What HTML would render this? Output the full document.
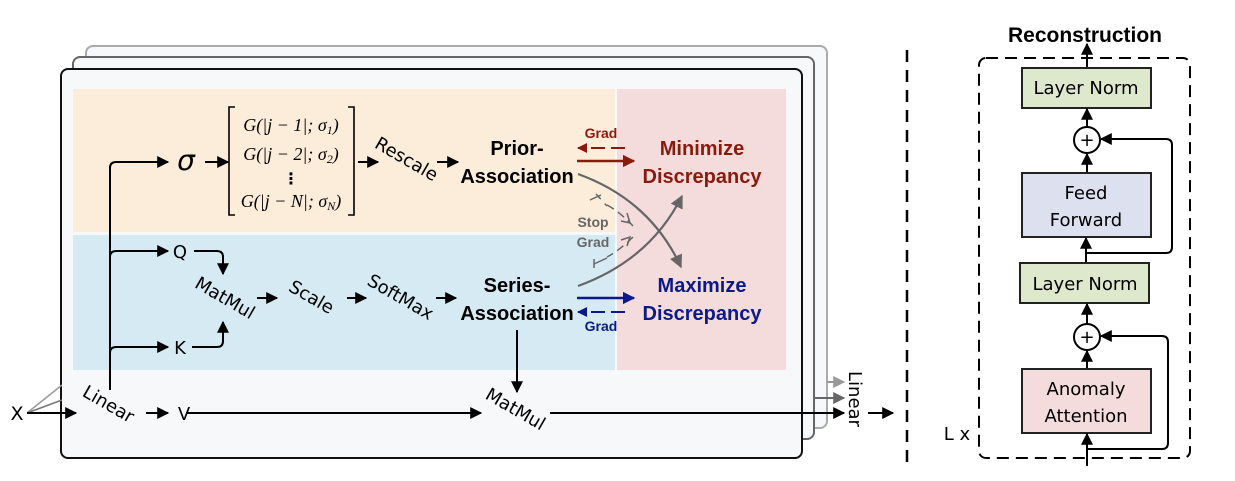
<!DOCTYPE html>
<html><head><meta charset="utf-8"><style>
body{margin:0;background:#fff;}
svg{display:block;}
text{font-family:"DejaVu Sans","Liberation Sans",sans-serif;}
.b{font-family:"Liberation Sans",sans-serif;font-weight:bold;}
.m{font-family:"Liberation Serif",serif;font-style:italic;font-size:18px;}
</style></head><body>
<svg width="1235" height="481" viewBox="0 0 1235 481" xmlns="http://www.w3.org/2000/svg">
<defs>
<marker id="a" viewBox="0 0 10 10" refX="9" refY="5" markerWidth="6" markerHeight="6" orient="auto"><path d="M0,0L10,5L0,10z" fill="#000"/></marker>
<marker id="ag" viewBox="0 0 10 10" refX="9" refY="5" markerWidth="6" markerHeight="6" orient="auto"><path d="M0,0L10,5L0,10z" fill="#666"/></marker>
<marker id="al" viewBox="0 0 10 10" refX="9" refY="5" markerWidth="6" markerHeight="6" orient="auto"><path d="M0,0L10,5L0,10z" fill="#999"/></marker>
<marker id="ar" viewBox="0 0 10 10" refX="9" refY="5" markerWidth="5" markerHeight="5" orient="auto"><path d="M0,0L10,5L0,10z" fill="#8b1a0e"/></marker>
<marker id="ab" viewBox="0 0 10 10" refX="9" refY="5" markerWidth="5" markerHeight="5" orient="auto"><path d="M0,0L10,5L0,10z" fill="#0a1a8a"/></marker>
</defs>
<rect x="86" y="46" width="741" height="382" rx="7" fill="#f7f8fa" stroke="#aaa" stroke-width="2"/>
<rect x="73" y="57" width="741" height="382" rx="7" fill="#f7f8fa" stroke="#666" stroke-width="2"/>
<rect x="61" y="69" width="741" height="389" rx="7" fill="#f7f8fa" stroke="#111" stroke-width="2"/>
<rect x="73" y="89" width="542" height="143" fill="#fcecda"/>
<rect x="73" y="235" width="542" height="135" fill="#d5eaf3"/>
<rect x="617" y="89" width="169" height="281" fill="#f5dcdc"/>
<line x1="27" y1="413" x2="62" y2="385" stroke="#999" stroke-width="1.5"/>
<line x1="27" y1="413" x2="62" y2="400" stroke="#777" stroke-width="1.5"/>
<line x1="27" y1="413" x2="76" y2="413" stroke="#000" stroke-width="2" marker-end="url(#a)"/>
<text x="17" y="420" font-size="19" text-anchor="middle">X</text>
<text x="108" y="410" font-size="18" text-anchor="middle" transform="rotate(30 108 405)">Linear</text>
<path d="M110,390V168q0,-6 6,-6H168" fill="none" stroke="#000" stroke-width="2" marker-end="url(#a)"/>
<path d="M110,257q0,-6 6,-6H168" fill="none" stroke="#000" stroke-width="2" marker-end="url(#a)"/>
<path d="M110,353q0,-6 6,-6H168" fill="none" stroke="#000" stroke-width="2" marker-end="url(#a)"/>
<line x1="146" y1="413" x2="168" y2="413" stroke="#000" stroke-width="2" marker-end="url(#a)"/>
<text x="184" y="420" font-size="18" text-anchor="middle">V</text>
<text x="186" y="170" font-size="28" font-style="italic" font-family="Liberation Serif,serif" text-anchor="middle">σ</text>
<line x1="205" y1="162" x2="228" y2="162" stroke="#000" stroke-width="2" marker-end="url(#a)"/>
<path d="M235,107H229V215H235M348,107H354V215H348" fill="none" stroke="#000" stroke-width="1.6"/>
<text x="291" y="131" class="m" text-anchor="middle">G(|j − 1|; σ<tspan font-size="12" dy="3">1</tspan><tspan dy="-3">)</tspan></text>
<text x="291" y="160" class="m" text-anchor="middle">G(|j − 2|; σ<tspan font-size="12" dy="3">2</tspan><tspan dy="-3">)</tspan></text>
<text x="291" y="184" font-size="16" font-weight="bold" text-anchor="middle">⋮</text>
<text x="291" y="207" class="m" text-anchor="middle">G(|j − N|; σ<tspan font-size="12" dy="3">N</tspan><tspan dy="-3">)</tspan></text>
<line x1="358" y1="162" x2="378" y2="162" stroke="#000" stroke-width="2" marker-end="url(#a)"/>
<text x="406" y="165" font-size="18" text-anchor="middle" transform="rotate(30 406 160)">Rescale</text>
<line x1="437" y1="162" x2="458" y2="162" stroke="#000" stroke-width="2" marker-end="url(#a)"/>
<text x="180" y="258" font-size="18" text-anchor="middle">Q</text>
<text x="180" y="354" font-size="18" text-anchor="middle">K</text>
<path d="M194,251H217q6,0 6,6V274" fill="none" stroke="#000" stroke-width="2" marker-end="url(#a)"/>
<path d="M192,347H217q6,0 6,-6V322" fill="none" stroke="#000" stroke-width="2" marker-end="url(#a)"/>
<text x="225" y="304" font-size="18" text-anchor="middle" transform="rotate(30 225 298)">MatMul</text>
<line x1="257" y1="298" x2="277" y2="298" stroke="#000" stroke-width="2" marker-end="url(#a)"/>
<text x="311" y="303" font-size="18" text-anchor="middle" transform="rotate(30 311 298)">Scale</text>
<line x1="347" y1="298" x2="366" y2="298" stroke="#000" stroke-width="2" marker-end="url(#a)"/>
<text x="400" y="303" font-size="18" text-anchor="middle" transform="rotate(30 400 298)">SoftMax</text>
<line x1="436" y1="298" x2="456" y2="298" stroke="#000" stroke-width="2" marker-end="url(#a)"/>
<g font-size="20" text-anchor="middle">
<text x="517" y="155" class="b">Prior-</text>
<text x="517" y="183" class="b">Association</text>
<text x="517" y="292" class="b">Series-</text>
<text x="517" y="320" class="b">Association</text>
<text x="702" y="155" class="b" fill="#8b1a0e">Minimize</text>
<text x="702" y="183" class="b" fill="#8b1a0e">Discrepancy</text>
<text x="702" y="292" class="b" fill="#0a1a8a">Maximize</text>
<text x="702" y="320" class="b" fill="#0a1a8a">Discrepancy</text>
</g>
<g font-size="14" text-anchor="middle">
<text x="601" y="138" class="b" fill="#8b1a0e">Grad</text>
<text x="601" y="331" class="b" fill="#0a1a8a">Grad</text>
<text x="593" y="227" class="b" fill="#666">Stop</text>
<text x="593" y="247" class="b" fill="#666">Grad</text>
</g>
<line x1="625" y1="148" x2="578" y2="148" stroke="#8b1a0e" stroke-width="2" stroke-dasharray="14,6" marker-end="url(#ar)"/>
<line x1="577" y1="161" x2="634" y2="161" stroke="#8b1a0e" stroke-width="2.5" marker-end="url(#ar)"/>
<line x1="577" y1="298" x2="634" y2="298" stroke="#0a1a8a" stroke-width="2.5" marker-end="url(#ab)"/>
<line x1="625" y1="312" x2="578" y2="312" stroke="#0a1a8a" stroke-width="2" stroke-dasharray="14,6" marker-end="url(#ab)"/>
<path d="M578,174Q650,200 681,267" fill="none" stroke="#666" stroke-width="2.2" marker-end="url(#ag)"/>
<path d="M578,286Q650,260 682,196" fill="none" stroke="#666" stroke-width="2.2" marker-end="url(#ag)"/>
<path d="M607,205Q620,212 633,226" fill="none" stroke="#666" stroke-width="1.5" stroke-dasharray="8,5"/>
<path d="M621,221L630,223L627,213" fill="none" stroke="#666" stroke-width="1.5"/>
<line x1="590" y1="200" x2="601" y2="195" stroke="#666" stroke-width="1.5"/>
<line x1="596" y1="194" x2="607" y2="206" stroke="#666" stroke-width="1.5" stroke-dasharray="7,6"/>
<path d="M633,237Q620,250 607,257" fill="none" stroke="#666" stroke-width="1.5" stroke-dasharray="8,5"/>
<path d="M627,246L630,237L621,240" fill="none" stroke="#666" stroke-width="1.5"/>
<line x1="594" y1="268" x2="594" y2="259" stroke="#666" stroke-width="1.5"/>
<line x1="594" y1="264" x2="607" y2="258" stroke="#666" stroke-width="1.5"/>
<line x1="517" y1="330" x2="517" y2="392" stroke="#000" stroke-width="2" marker-end="url(#a)"/>
<line x1="186" y1="413" x2="481" y2="413" stroke="#000" stroke-width="2" marker-end="url(#a)"/>
<text x="515" y="415" font-size="18" text-anchor="middle" transform="rotate(30 515 410)">MatMul</text>
<line x1="550" y1="413" x2="844" y2="413" stroke="#000" stroke-width="2" marker-end="url(#a)"/>
<line x1="814" y1="398" x2="844" y2="398" stroke="#666" stroke-width="2" marker-end="url(#ag)"/>
<line x1="827" y1="382" x2="844" y2="382" stroke="#999" stroke-width="2" marker-end="url(#al)"/>
<text x="849" y="399" font-size="18" text-anchor="middle" transform="rotate(90 849 399)">Linear</text>
<line x1="868" y1="413" x2="893" y2="413" stroke="#000" stroke-width="2" marker-end="url(#a)"/>
<line x1="907" y1="50" x2="907" y2="462" stroke="#000" stroke-width="2.5" stroke-dasharray="12,8"/>
<text x="1085" y="42" class="b" font-size="21" text-anchor="middle">Reconstruction</text>
<rect x="979" y="58" width="211" height="400" rx="7" fill="none" stroke="#000" stroke-width="2" stroke-dasharray="12,7"/>
<text x="957" y="440" font-size="18" text-anchor="middle">L x</text>
<line x1="1087" y1="68" x2="1087" y2="44" stroke="#000" stroke-width="2" marker-end="url(#a)"/>
<rect x="1022" y="68" width="129" height="40" fill="#dde8cc" stroke="#222" stroke-width="2"/>
<text x="1086" y="94" font-size="18" text-anchor="middle">Layer Norm</text>
<circle cx="1087" cy="140" r="13" fill="#fff" stroke="#000" stroke-width="2"/>
<text x="1087" y="146" font-size="18" text-anchor="middle">+</text>
<line x1="1087" y1="127" x2="1087" y2="109" stroke="#000" stroke-width="2" marker-end="url(#a)"/>
<line x1="1087" y1="172" x2="1087" y2="154" stroke="#000" stroke-width="2" marker-end="url(#a)"/>
<rect x="1022" y="173" width="129" height="64" fill="#dce0ef" stroke="#222" stroke-width="2"/>
<text x="1086" y="199" font-size="18" text-anchor="middle">Feed</text>
<text x="1086" y="226" font-size="18" text-anchor="middle">Forward</text>
<path d="M1086,253H1166q6,0 6,-6V145q0,-6 -6,-6H1101" fill="none" stroke="#000" stroke-width="2" marker-end="url(#a)"/>
<line x1="1086" y1="263" x2="1086" y2="238" stroke="#000" stroke-width="2" marker-end="url(#a)"/>
<rect x="1020" y="263" width="129" height="40" fill="#dde8cc" stroke="#222" stroke-width="2"/>
<text x="1085" y="290" font-size="18" text-anchor="middle">Layer Norm</text>
<circle cx="1087" cy="337" r="13" fill="#fff" stroke="#000" stroke-width="2"/>
<text x="1087" y="343" font-size="18" text-anchor="middle">+</text>
<line x1="1087" y1="324" x2="1087" y2="304" stroke="#000" stroke-width="2" marker-end="url(#a)"/>
<line x1="1087" y1="369" x2="1087" y2="351" stroke="#000" stroke-width="2" marker-end="url(#a)"/>
<rect x="1022" y="369" width="129" height="64" fill="#f5dcdc" stroke="#222" stroke-width="2"/>
<text x="1086" y="395" font-size="18" text-anchor="middle">Anomaly</text>
<text x="1086" y="422" font-size="18" text-anchor="middle">Attention</text>
<path d="M1087,449H1162q6,0 6,-6V342q0,-6 -6,-6H1101" fill="none" stroke="#000" stroke-width="2" marker-end="url(#a)"/>
<line x1="1087" y1="466" x2="1087" y2="434" stroke="#000" stroke-width="2" marker-end="url(#a)"/>
</svg>
</body></html>
